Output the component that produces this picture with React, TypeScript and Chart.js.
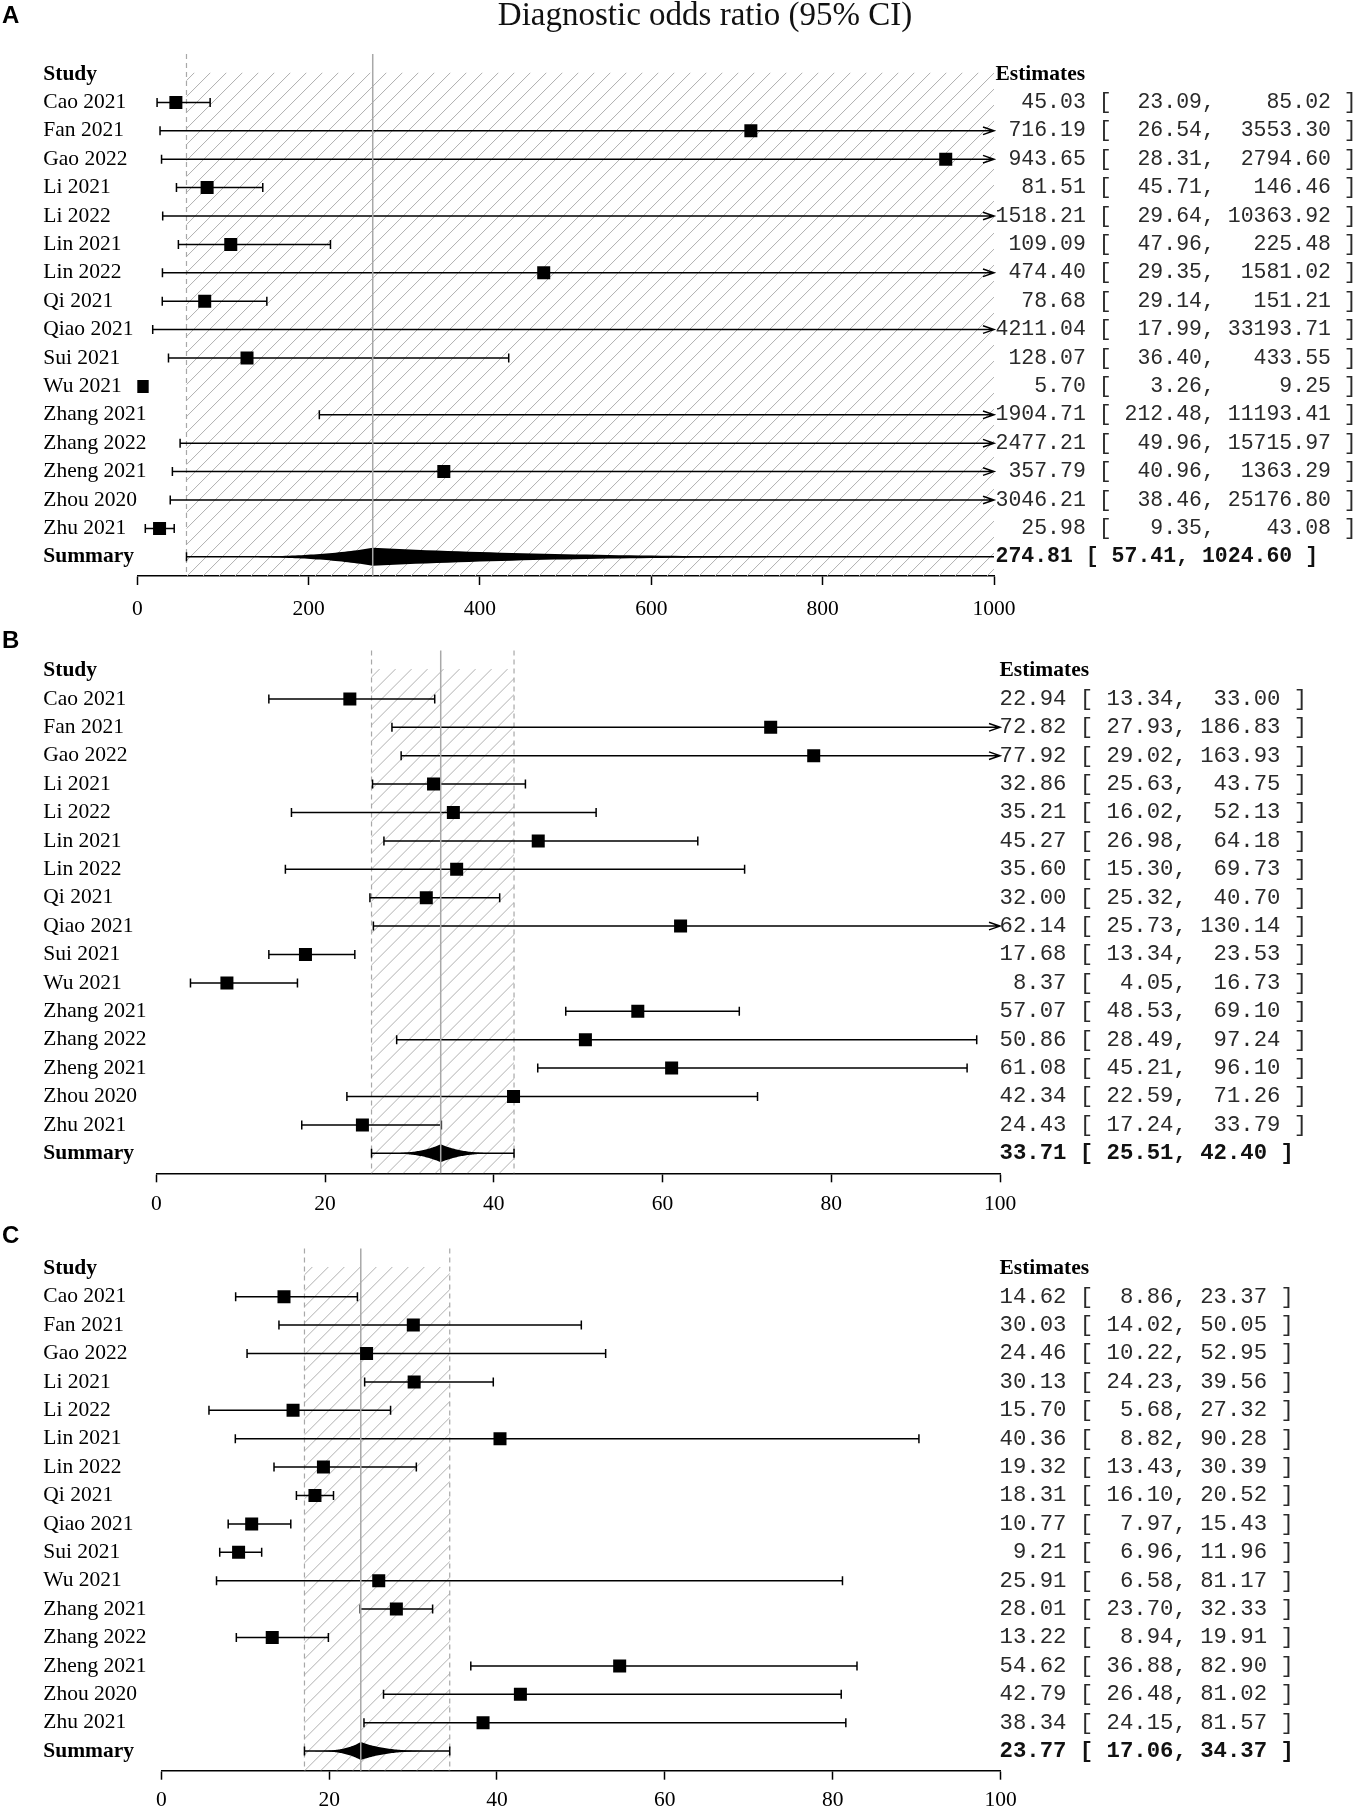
import React, { useEffect, useRef } from "react";
import { Chart, registerables } from "chart.js";

Chart.register(...registerables);

// ---------- data ----------
const studies = [
  "Cao 2021", "Fan 2021", "Gao 2022", "Li 2021", "Li 2022", "Lin 2021", "Lin 2022", "Qi 2021",
  "Qiao 2021", "Sui 2021", "Wu 2021", "Zhang 2021", "Zhang 2022", "Zheng 2021", "Zhou 2020", "Zhu 2021",
];

// Panel A: diagnostic odds ratio
const aEst = [45.03, 716.19, 943.65, 81.51, 1518.21, 109.09, 474.4, 78.68, 4211.04, 128.07, 5.7, 1904.71, 2477.21, 357.79, 3046.21, 25.98];
const aLo = [23.09, 26.54, 28.31, 45.71, 29.64, 47.96, 29.35, 29.14, 17.99, 36.4, 3.26, 212.48, 49.96, 40.96, 38.46, 9.35];
const aHi = [85.02, 3553.3, 2794.6, 146.46, 10363.92, 225.48, 1581.02, 151.21, 33193.71, 433.55, 9.25, 11193.41, 15715.97, 1363.29, 25176.8, 43.08];
const aSummary = [274.81, 57.41, 1024.6];
const aTicks = [0, 200, 400, 600, 800, 1000];

// Panel B
const bEst = [22.94, 72.82, 77.92, 32.86, 35.21, 45.27, 35.6, 32.0, 62.14, 17.68, 8.37, 57.07, 50.86, 61.08, 42.34, 24.43];
const bLo = [13.34, 27.93, 29.02, 25.63, 16.02, 26.98, 15.3, 25.32, 25.73, 13.34, 4.05, 48.53, 28.49, 45.21, 22.59, 17.24];
const bHi = [33.0, 186.83, 163.93, 43.75, 52.13, 64.18, 69.73, 40.7, 130.14, 23.53, 16.73, 69.1, 97.24, 96.1, 71.26, 33.79];
const bSummary = [33.71, 25.51, 42.4];
const bTicks = [0, 20, 40, 60, 80, 100];

// Panel C
const cEst = [14.62, 30.03, 24.46, 30.13, 15.7, 40.36, 19.32, 18.31, 10.77, 9.21, 25.91, 28.01, 13.22, 54.62, 42.79, 38.34];
const cLo = [8.86, 14.02, 10.22, 24.23, 5.68, 8.82, 13.43, 16.1, 7.97, 6.96, 6.58, 23.7, 8.94, 36.88, 26.48, 24.15];
const cHi = [23.37, 50.05, 52.95, 39.56, 27.32, 90.28, 30.39, 20.52, 15.43, 11.96, 81.17, 32.33, 19.91, 82.9, 81.02, 81.57];
const cSummary = [23.77, 17.06, 34.37];
const cTicks = [0, 20, 40, 60, 80, 100];

const titleText = "Diagnostic odds ratio (95% CI)";

// ---------- styling / layout ----------
const SERIF = '"Liberation Serif", "Times New Roman", serif';
const MONO = '"Liberation Mono", "Courier New", monospace';
const SANS = '"Liberation Sans", Arial, sans-serif';
const ROW = 28.4;
const W = 1359;

type Panel = {
  letter: string;
  est: number[];
  lo: number[];
  hi: number[];
  summary: number[];
  ticks: number[];
  top: number;
  height: number;
  letterY: number;
  studyY: number;
  axisY: number;
  x0: number;
  x1: number;
  textX: number;
  monoSize: number;
  tickPad: number;
  title?: string;
};

const panels: Panel[] = [
  { letter: "A", est: aEst, lo: aLo, hi: aHi, summary: aSummary, ticks: aTicks, top: 0, height: 630, letterY: 16.7, studyY: 74, axisY: 576, x0: 137.3, x1: 994, textX: 995.5, monoSize: 21.5, tickPad: 11, title: titleText },
  { letter: "B", est: bEst, lo: bLo, hi: bHi, summary: bSummary, ticks: bTicks, top: 630, height: 598, letterY: 11.5, studyY: 40.5, axisY: 543.3, x0: 156.3, x1: 1000, textX: 999.5, monoSize: 22.3, tickPad: 9 },
  { letter: "C", est: cEst, lo: cLo, hi: cHi, summary: cSummary, ticks: cTicks, top: 1226, height: 583, letterY: 10.5, studyY: 42.3, axisY: 544.7, x0: 161.3, x1: 1000.5, textX: 999.5, monoSize: 22.3, tickPad: 8 },
];

function padL(s: string, n: number) {
  return s.length >= n ? s : " ".repeat(n - s.length) + s;
}

function makePlugin(p: Panel) {
  const f = (v: number) => v.toFixed(2);
  const wE = Math.max(...p.est.map((v) => f(v).length));
  const wL = Math.max(...p.lo.map((v) => f(v).length));
  const wH = Math.max(...p.hi.map((v) => f(v).length));
  return {
    id: "forest" + p.letter,
    beforeDatasetsDraw(chart: any) {
      const ctx: CanvasRenderingContext2D = chart.ctx;
      const xs = chart.scales.x;
      const ys = chart.scales.y;
      const area = chart.chartArea;
      const xmax = p.ticks[p.ticks.length - 1];
      const xmin = p.ticks[0];
      const X = (v: number) => xs.getPixelForValue(Math.max(xmin, Math.min(xmax, v)));
      const Y = (r: number) => ys.getPixelForValue(r);
      const [sEst, sLo, sHi] = p.summary;
      const nRows = p.est.length;

      // hatched confidence band of the summary
      ctx.save();
      const hl = X(sLo), hr = X(sHi), ht = Y(-0.05), hb = area.bottom;
      ctx.beginPath();
      ctx.rect(hl, ht, hr - hl, hb - ht);
      ctx.clip();
      ctx.strokeStyle = "#b0b0b0";
      ctx.lineWidth = 1;
      ctx.beginPath();
      const h = hb - ht;
      for (let x = hl - h - 40; x < hr + 20; x += 16) {
        ctx.moveTo(x, hb);
        ctx.lineTo(x + h, ht);
      }
      ctx.stroke();
      ctx.restore();

      // dashed bounds
      ctx.save();
      ctx.strokeStyle = "#a8a8a8";
      ctx.lineWidth = 1.2;
      ctx.setLineDash([5, 4]);
      [sLo, sHi].forEach((v) => {
        if (v >= xmin && v <= xmax) {
          const x = xs.getPixelForValue(v);
          ctx.beginPath();
          ctx.moveTo(x, Y(-0.7));
          ctx.lineTo(x, area.bottom);
          ctx.stroke();
        }
      });
      ctx.restore();

      // whiskers
      ctx.save();
      ctx.strokeStyle = "#000";
      ctx.lineWidth = 1.5;
      const cap = 4.5;
      const drawWhisker = (lo: number, hi: number, y: number, arrow: boolean) => {
        const xl = X(lo);
        const xh = X(hi);
        ctx.beginPath();
        ctx.moveTo(xl, y);
        ctx.lineTo(xh, y);
        ctx.moveTo(xl, y - cap);
        ctx.lineTo(xl, y + cap);
        if (hi <= xmax) {
          ctx.moveTo(xh, y - cap);
          ctx.lineTo(xh, y + cap);
        } else if (arrow) {
          ctx.moveTo(xh - 11, y - 3.8);
          ctx.lineTo(xh, y);
          ctx.lineTo(xh - 11, y + 3.8);
        }
        ctx.stroke();
      };
      for (let i = 0; i < nRows; i++) drawWhisker(p.lo[i], p.hi[i], Y(i + 1), true);
      const sy = Y(nRows + 1);
      drawWhisker(sLo, sHi, sy, false);
      ctx.restore();

      // summary diamond
      ctx.save();
      ctx.beginPath();
      ctx.rect(area.left, area.top, area.right - area.left, area.bottom - area.top);
      ctx.clip();
      const H = 9, k = 3.5, N = 60;
      const upper: [number, number][] = [];
      for (let i = 0; i <= N; i++) {
        const t = i / N;
        upper.push([xs.getPixelForValue(sLo + t * (sEst - sLo)), Math.pow(t, k) * H]);
      }
      for (let i = N - 1; i >= 0; i--) {
        const t = i / N;
        upper.push([xs.getPixelForValue(sHi - t * (sHi - sEst)), Math.pow(t, k) * H]);
      }
      ctx.beginPath();
      upper.forEach(([x, hh], i) => (i === 0 ? ctx.moveTo(x, sy - hh) : ctx.lineTo(x, sy - hh)));
      for (let i = upper.length - 1; i >= 0; i--) ctx.lineTo(upper[i][0], sy + upper[i][1]);
      ctx.closePath();
      ctx.fillStyle = "#000";
      ctx.fill();
      ctx.restore();

      // solid summary line
      ctx.save();
      ctx.strokeStyle = "#a8a8a8";
      ctx.lineWidth = 1.5;
      const xe = xs.getPixelForValue(sEst);
      ctx.beginPath();
      ctx.moveTo(xe, Y(-0.7));
      ctx.lineTo(xe, area.bottom);
      ctx.stroke();
      ctx.restore();
    },
    afterDraw(chart: any) {
      const ctx: CanvasRenderingContext2D = chart.ctx;
      const ys = chart.scales.y;
      const Y = (r: number) => ys.getPixelForValue(r);
      const nRows = p.est.length;
      ctx.save();
      ctx.fillStyle = "#000";
      ctx.textAlign = "left";
      ctx.textBaseline = "middle";
      ctx.font = `bold 24px ${SANS}`;
      ctx.fillText(p.letter, 2, p.letterY);
      if (p.title) {
        ctx.save();
        ctx.font = `33px ${SERIF}`;
        ctx.textAlign = "center";
        ctx.textBaseline = "alphabetic";
        ctx.fillStyle = "#111";
        ctx.fillText(p.title, 705, 25);
        ctx.restore();
      }
      ctx.font = `bold 21.5px ${SERIF}`;
      ctx.fillText("Study", 43.3, Y(0));
      ctx.fillText("Estimates", p.textX, Y(0));
      for (let i = 0; i < nRows; i++) {
        ctx.fillStyle = "#000";
        ctx.font = `21.5px ${SERIF}`;
        ctx.fillText(studies[i], 43.3, Y(i + 1));
        ctx.fillStyle = "#2a2a2a";
        ctx.font = `${p.monoSize}px ${MONO}`;
        const s = `${padL(f(p.est[i]), wE)} [ ${padL(f(p.lo[i]), wL)}, ${padL(f(p.hi[i]), wH)} ]`;
        ctx.fillText(s, p.textX, Y(i + 1));
      }
      ctx.fillStyle = "#000";
      ctx.font = `bold 21.5px ${SERIF}`;
      ctx.fillText("Summary", 43.3, Y(nRows + 1));
      ctx.fillStyle = "#111";
      ctx.font = `bold ${p.monoSize}px ${MONO}`;
      const [sEst, sLo, sHi] = p.summary;
      ctx.fillText(`${f(sEst)} [ ${f(sLo)}, ${f(sHi)} ]`, p.textX, Y(nRows + 1));
      ctx.restore();
    },
  };
}

function PanelChart({ p }: { p: Panel }) {
  const ref = useRef<HTMLCanvasElement>(null);
  useEffect(() => {
    if (!ref.current) return;
    const chart = new Chart(ref.current, {
      type: "scatter",
      data: {
        datasets: [
          {
            data: p.est.map((v, i) => ({ x: v, y: i + 1 })),
            pointStyle: "rect",
            pointRadius: 9.2,
            pointHoverRadius: 9.2,
            backgroundColor: "#000",
            borderWidth: 0,
          },
        ],
      },
      options: {
        responsive: false,
        animation: false,
        devicePixelRatio: 1,
        events: [],
        layout: {
          padding: { left: p.x0, right: W - p.x1, top: p.studyY - ROW, bottom: 0 },
        },
        plugins: { legend: { display: false }, tooltip: { enabled: false }, title: { display: false } },
        scales: {
          x: {
            type: "linear",
            position: "bottom",
            min: p.ticks[0],
            max: p.ticks[p.ticks.length - 1],
            afterFit: (s: any) => {
              s.height = p.height - p.axisY;
            },
            afterBuildTicks: (s: any) => {
              s.ticks = p.ticks.map((v) => ({ value: v }));
            },
            grid: {
              display: true,
              drawOnChartArea: false,
              drawTicks: true,
              tickLength: 9,
              tickWidth: 1.5,
              tickColor: "#000",
              color: "#000",
            },
            border: { display: true, color: "#000", width: 1.5 },
            ticks: {
              color: "#000",
              padding: p.tickPad,
              font: { family: SERIF, size: 21.5 },
              callback: (v: any) => String(v),
            },
          },
          y: {
            type: "linear",
            display: false,
            reverse: true,
            min: -1,
            max: (p.axisY - p.studyY) / ROW,
          },
        },
      },
      plugins: [makePlugin(p)],
    } as any);
    return () => chart.destroy();
  }, [p]);
  return (
    <canvas
      ref={ref}
      width={W}
      height={p.height}
      style={{ position: "absolute", left: 0, top: p.top, width: W, height: p.height }}
    />
  );
}

export default function App() {
  return (
    <div style={{ position: "absolute", left: 0, top: 0, width: W, height: 1809, background: "#fff" }}>
      {panels.map((p) => (
        <PanelChart key={p.letter} p={p} />
      ))}
    </div>
  );
}
